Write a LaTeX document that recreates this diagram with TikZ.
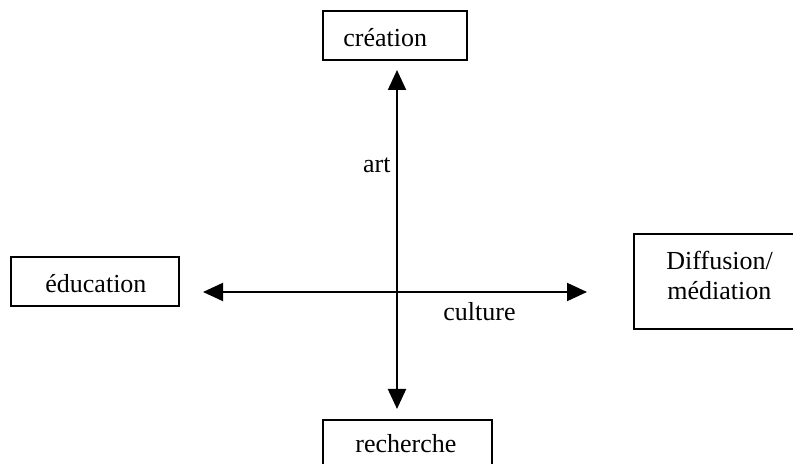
\documentclass[tikz,border=0pt]{standalone}
\usepackage{fontspec}
\setmainfont{Liberation Serif}
\usetikzlibrary{arrows.meta}
\begin{document}
\begin{tikzpicture}[x=0.5pt,y=-0.5pt,
  box/.style={draw, line width=0.6pt, inner sep=0pt},
  txt/.style={font=\fontsize{13}{15}\selectfont, inner sep=0pt},
  arr/.style={{Triangle[length=10pt,width=9pt]}-{Triangle[length=10pt,width=9pt]}, line width=1pt}]
\useasboundingbox (0,0) rectangle (793,464);
% boxes
\node[box, minimum width=72pt, minimum height=24.5pt] (creation) at (395,35.5) {};
\node[box, minimum width=84pt, minimum height=24.5pt] (education) at (95,281.5) {};
\node[box, minimum width=85pt, minimum height=47.5pt] (diffusion) at (719,281.5) {};
\node[box, minimum width=84.5pt, minimum height=25pt] (recherche) at (407.5,445) {};
% box texts
\node[txt, anchor=base west] (tcreation) at (343,47) {création};
\node[txt, anchor=base west] (teducation) at (45,293) {éducation};
\node[txt, anchor=base west] (tdiff1) at (666,270) {Diffusion/};
\node[txt, anchor=base west] (tdiff2) at (667,300) {médiation};
\node[txt, anchor=base west] (trecherche) at (355,453) {recherche};
% axes
\coordinate (top) at (397,70);
\coordinate (bot) at (397,409);
\coordinate (lft) at (203,292);
\coordinate (rgt) at (587,292);
\draw[arr] (top) -- (bot);
\draw[arr] (lft) -- (rgt);
% axis labels
\node[txt, anchor=base east] (art) at (391,173) {art};
\node[txt, anchor=base west] (culture) at (443,321) {culture};
\end{tikzpicture}
\end{document}
